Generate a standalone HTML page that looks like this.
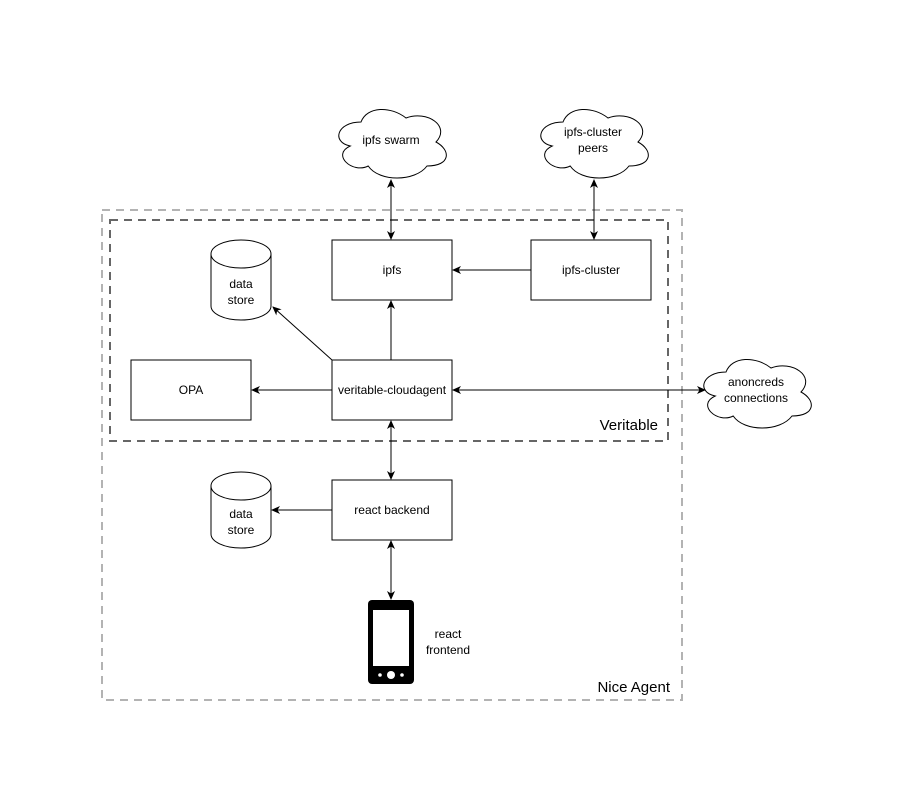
<!DOCTYPE html>
<html><head><meta charset="utf-8"><style>
html,body{margin:0;padding:0;background:#fff;}
svg{display:block;font-family:"Liberation Sans",Helvetica,Arial,sans-serif;}
text{font-size:12px;fill:#000;}
</style></head><body>
<svg width="922" height="802" viewBox="0 0 922 802" xmlns="http://www.w3.org/2000/svg">
<defs>
<marker id="a" markerWidth="10" markerHeight="10" refX="8" refY="5" orient="auto-start-reverse" markerUnits="userSpaceOnUse">
<path d="M0,1 L9,5 L0,9 L2.5,5 Z" fill="#000"/>
</marker>
<path id="cloud" d="M30,20 C6,20 0,40 19.2,44 C0,52.8 21.6,72 37.2,64 C48,80 84,80 96,64 C120,64 120,48 105,40 C120,24 96,8 75,16 C60,4 36,4 30,20 Z"/>
</defs>
<rect x="102" y="210" width="580" height="490" fill="none" stroke="#b3b3b3" stroke-width="2" stroke-dasharray="8 6"/>
<rect x="110" y="220" width="558" height="221" fill="none" stroke="#666" stroke-width="2" stroke-dasharray="8 6"/>
<text x="658" y="430" text-anchor="end" style="font-size:15px">Veritable</text>
<text x="670" y="692" text-anchor="end" style="font-size:15px">Nice Agent</text>

<g fill="#fff" stroke="#000" stroke-width="1">
<rect x="332" y="240" width="120" height="60"/>
<rect x="531" y="240" width="120" height="60"/>
<rect x="131" y="360" width="120" height="60"/>
<rect x="332" y="360" width="120" height="60"/>
<rect x="332" y="480" width="120" height="60"/>
<use href="#cloud" transform="translate(331,102)"/>
<use href="#cloud" transform="translate(533,102)"/>
<use href="#cloud" transform="translate(696,352)"/>
<path d="M211,254 A30,14 0 0 1 271,254 L271,306 A30,14 0 0 1 211,306 Z"/>
<path d="M211,254 A30,14 0 0 0 271,254"/>
<path d="M211,486 A30,14 0 0 1 271,486 L271,534 A30,14 0 0 1 211,534 Z"/>
<path d="M211,486 A30,14 0 0 0 271,486"/>
</g>

<g text-anchor="middle">
<text x="392" y="274">ipfs</text>
<text x="591" y="274">ipfs-cluster</text>
<text x="191" y="394">OPA</text>
<text x="392" y="394">veritable-cloudagent</text>
<text x="392" y="514">react backend</text>
<text x="391" y="144">ipfs swarm</text>
<text x="593" y="136">ipfs-cluster</text>
<text x="593" y="152">peers</text>
<text x="756" y="386">anoncreds</text>
<text x="756" y="402">connections</text>
<text x="241" y="288">data</text>
<text x="241" y="304">store</text>
<text x="241" y="518">data</text>
<text x="241" y="534">store</text>
<text x="448" y="638">react</text>
<text x="448" y="654">frontend</text>
</g>

<g stroke="#000" stroke-width="1" fill="none">
<line x1="391" y1="180" x2="391" y2="239" marker-start="url(#a)" marker-end="url(#a)"/>
<line x1="594" y1="180" x2="594" y2="239" marker-start="url(#a)" marker-end="url(#a)"/>
<line x1="531" y1="270" x2="453" y2="270" marker-end="url(#a)"/>
<line x1="391" y1="360" x2="391" y2="301" marker-end="url(#a)"/>
<line x1="332" y1="360" x2="273" y2="307" marker-end="url(#a)"/>
<line x1="332" y1="390" x2="252" y2="390" marker-end="url(#a)"/>
<line x1="453" y1="390" x2="705" y2="390" marker-start="url(#a)" marker-end="url(#a)"/>
<line x1="391" y1="421" x2="391" y2="479" marker-start="url(#a)" marker-end="url(#a)"/>
<line x1="332" y1="510" x2="272" y2="510" marker-end="url(#a)"/>
<line x1="391" y1="541" x2="391" y2="599" marker-start="url(#a)" marker-end="url(#a)"/>
</g>

<rect x="368" y="600" width="46" height="84" rx="4" fill="#000"/>
<rect x="373" y="610" width="36" height="56" fill="#fff"/>
<circle cx="391" cy="675" r="4" fill="#fff"/>
<circle cx="380" cy="675" r="1.8" fill="#fff"/>
<circle cx="402" cy="675" r="1.8" fill="#fff"/>
</svg>
</body></html>
